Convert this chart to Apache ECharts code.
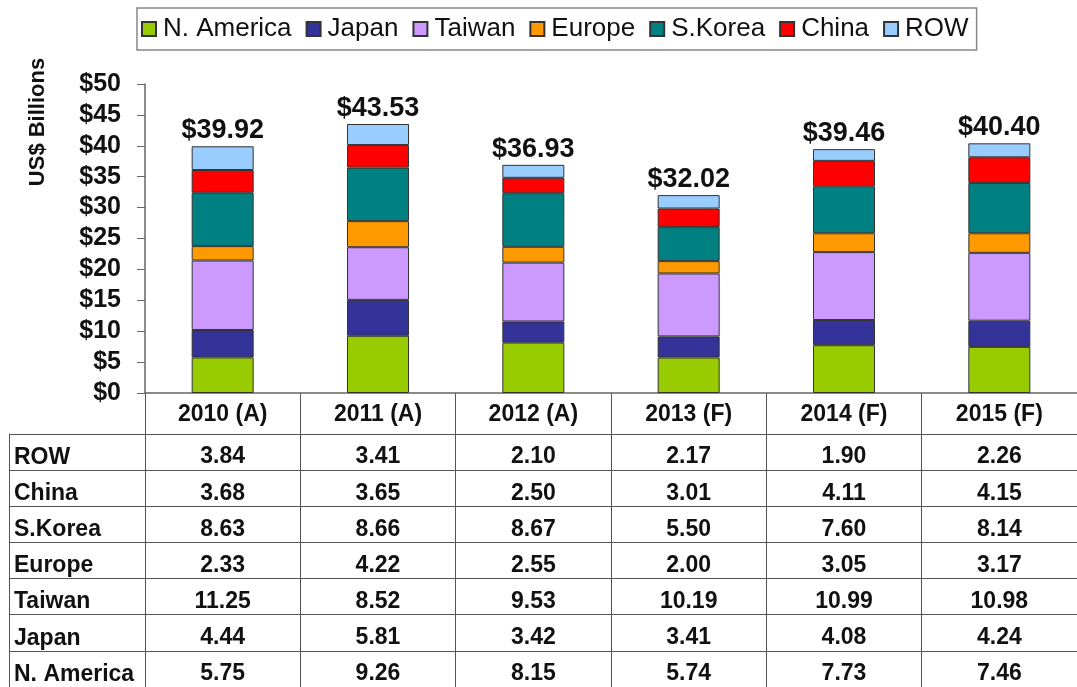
<!DOCTYPE html>
<html>
<head>
<meta charset="utf-8">
<title>Regional spending</title>
<script src="https://cdn.jsdelivr.net/npm/echarts@6/dist/echarts.min.js"></script>
<style>
  html, body { margin: 0; padding: 0; background: #fff; }
  #main { width: 1077px; height: 687px; }
</style>
</head>
<body>
<div id="main"></div>
<script>
// categories and data
const years = ['2010 (A)', '2011 (A)', '2012 (A)', '2013 (F)', '2014 (F)', '2015 (F)']
const regions = ['N. America', 'Japan', 'Taiwan', 'Europe', 'S.Korea', 'China', 'ROW']
const nAmerica = [5.75, 9.26, 8.15, 5.74, 7.73, 7.46]
const japan = [4.44, 5.81, 3.42, 3.41, 4.08, 4.24]
const taiwan = [11.25, 8.52, 9.53, 10.19, 10.99, 10.98]
const europe = [2.33, 4.22, 2.55, 2.00, 3.05, 3.17]
const sKorea = [8.63, 8.66, 8.67, 5.50, 7.60, 8.14]
const china = [3.68, 3.65, 2.50, 3.01, 4.11, 4.15]
const rowData = [3.84, 3.41, 2.10, 2.17, 1.90, 2.26]
// totals as printed above the bars
const totals = [39.92, 43.53, 36.93, 32.02, 39.46, 40.40]

const colors = ['#99cc00', '#333399', '#cc99ff', '#ff9900', '#008080', '#ff0000', '#99ccff']
const seriesValues = [nAmerica, japan, taiwan, europe, sKorea, china, rowData]

const font = 'Arial, "Liberation Sans", sans-serif'
const lineColor = '#555'

var myChart = echarts.init(document.getElementById('main'))

// stacked bars
const barSeries = regions.map((name, k) => ({
    name: name,
    type: 'bar',
    stack: 'total',
    xAxisIndex: 0,
    yAxisIndex: 0,
    barWidth: 62,
    data: seriesValues[k],
    itemStyle: {
        color: colors[k],
        borderColor: '#333',
        borderWidth: 1
    },
    label: k === regions.length - 1 ? {
        show: true,
        position: 'top',
        distance: 2,
        formatter: (p) => '$' + totals[p.dataIndex].toFixed(2),
        fontFamily: font,
        fontSize: 27,
        fontWeight: 'bold',
        color: '#111'
    } : { show: false }
}))

// table cells, one point per region / year
const tableData = []
regions.forEach((name, r) => {
    seriesValues[r].forEach((v, i) => {
        tableData.push([i, r, v])
    })
})

myChart.setOption({
    animation: false,
    legend: {
        data: regions,
        left: 137,
        top: 8,
        padding: [8, 8, 8, 4],
        itemWidth: 14,
        itemHeight: 14,
        itemGap: 14,
        icon: 'rect',
        borderColor: '#888',
        borderWidth: 1.5,
        textStyle: { fontFamily: font, fontSize: 26, color: '#111', padding: [2, 0, 0, 2] }
    },
    graphic: [{
        type: 'text',
        x: 38,
        y: 122,
        rotation: Math.PI / 2,
        style: {
            text: 'US$ Billions',
            fontFamily: font,
            fontSize: 22,
            fontWeight: 'bold',
            fill: '#111',
            align: 'center',
            verticalAlign: 'middle'
        }
    }],
    grid: [
        { left: 145, right: -2, top: 84, height: 309 },
        { left: 145, right: -2, top: 434, height: 259 }
    ],
    xAxis: [{
        type: 'category',
        gridIndex: 0,
        data: years,
        axisLine: { lineStyle: { color: '#666', width: 1.5 } },
        axisTick: { show: true, length: 41, interval: 0, lineStyle: { color: lineColor } },
        axisLabel: {
            interval: 0,
            margin: 10,
            fontFamily: font,
            fontSize: 23,
            fontWeight: 'bold',
            color: '#111'
        }
    }, {
        type: 'category',
        gridIndex: 1,
        data: years,
        position: 'top',
        axisLine: { lineStyle: { color: lineColor } },
        axisTick: { show: false },
        axisLabel: { show: false },
        splitLine: { show: true, interval: 0, lineStyle: { color: lineColor } }
    }],
    yAxis: [{
        type: 'value',
        gridIndex: 0,
        min: 0,
        max: 50,
        interval: 5,
        axisLine: { show: true, lineStyle: { color: '#666', width: 1.5 } },
        axisTick: { show: true, length: 8, lineStyle: { color: '#666' } },
        splitLine: { show: false },
        axisLabel: {
            margin: 24,
            formatter: '${value}',
            fontFamily: font,
            fontSize: 25,
            fontWeight: 'bold',
            color: '#111'
        }
    }, {
        type: 'category',
        gridIndex: 1,
        data: regions,
        axisLine: { show: true, lineStyle: { color: lineColor } },
        axisTick: { show: true, length: 136, interval: 0, lineStyle: { color: lineColor } },
        splitLine: { show: true, interval: 0, lineStyle: { color: lineColor } },
        axisLabel: {
            interval: 0,
            align: 'left',
            verticalAlign: 'top',
            lineHeight: 11,
            margin: 131,
            fontFamily: font,
            fontSize: 23,
            fontWeight: 'bold',
            color: '#111'
        }
    }, {
        type: 'category',
        gridIndex: 1,
        data: regions,
        position: 'left',
        offset: 136,
        axisLine: { show: true, lineStyle: { color: lineColor } },
        axisTick: { show: false },
        axisLabel: { show: false },
        splitLine: { show: false }
    }],
    series: [...barSeries, {
        name: 'table',
        type: 'scatter',
        xAxisIndex: 1,
        yAxisIndex: 1,
        symbolSize: 1,
        silent: true,
        itemStyle: { color: 'rgba(0,0,0,0)', opacity: 1 },
        data: tableData,
        label: {
            show: true,
            position: 'inside',
            offset: [0, 5],
            formatter: (p) => p.value[2].toFixed(2),
            fontFamily: font,
            fontSize: 23,
            fontWeight: 'bold',
            color: '#111'
        }
    }]
})
</script>
</body>
</html>
